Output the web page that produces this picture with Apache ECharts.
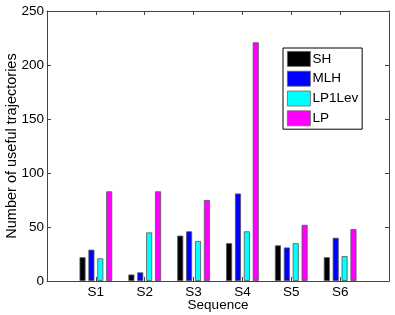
<!DOCTYPE html>
<html><head><meta charset="utf-8">
<script src="https://cdn.jsdelivr.net/npm/echarts@6/dist/echarts.min.js"></script>
<style>html,body{margin:0;padding:0;background:#fff}#c{width:395px;height:315px}</style>
</head><body><div id="c"></div>
<script>
const categories = ['S1','S2','S3','S4','S5','S6'];
const seriesNames = ['SH','MLH','LP1Lev','LP'];
const SH = [22, 6, 42, 35, 33, 22];
const MLH = [29, 8, 46, 81, 31, 40];
const LP1Lev = [21, 45, 37, 46, 35, 23];
const LP = [83, 83, 75, 221, 52, 48];
const yTicks = [0, 50, 100, 150, 200, 250];
const colors = ['#000000','#0000ff','#00ffff','#ff00ff'];
const allData = [SH, MLH, LP1Lev, LP];

const font = 'Liberation Sans, Arial, Helvetica, sans-serif';
const axisCol = '#444';
const chart = echarts.init(document.getElementById('c'), null, {renderer:'canvas'});
const series = allData.map((arr, k) => ({
  name: seriesNames[k], type: 'bar', xAxisIndex: 0, yAxisIndex: 0,
  barWidth: 6, barGap: '48%',
  itemStyle: {color: colors[k], borderColor: '#555', borderWidth: 0.8},
  data: arr.map((v, i) => [i + 1, v]),
  animation: false
}));
const xBase = {
  type: 'value', min: 0, max: categories.length + 1, interval: 1,
  axisLine: {show: true, onZero: false, lineStyle: {color: axisCol, width: 1}},
  axisTick: {show: true, inside: true, length: 4, lineStyle: {color: axisCol}},
  splitLine: {show: false}
};
const yBase = {
  type: 'value', min: yTicks[0], max: yTicks[yTicks.length - 1], interval: 50,
  axisLine: {show: true, onZero: false, lineStyle: {color: axisCol, width: 1}},
  axisTick: {show: true, inside: true, length: 4, lineStyle: {color: axisCol}},
  splitLine: {show: false}
};
chart.setOption({
  backgroundColor: '#fff',
  animation: false,
  grid: {left: 47, right: 6, top: 11, bottom: 34, containLabel: false, outerBoundsMode: 'none'},
  legend: {
    data: seriesNames, orient: 'vertical', left: 283, top: 48,
    itemWidth: 23, itemHeight: 15, itemGap: 4, padding: [3, 4, 3, 4],
    borderColor: '#000', borderWidth: 1, backgroundColor: '#fff',
    textStyle: {fontFamily: font, fontSize: 13.5, color: '#000', padding: [0,0,0,-3]},
    itemStyle: {borderColor: '#666', borderWidth: 0.8},
    selectedMode: false, icon: 'rect'
  },
  xAxis: [
    Object.assign({}, xBase, {position: 'bottom', name: 'Sequence', nameLocation: 'middle', nameGap: 17,
      nameMoveOverlap: false,
      nameTextStyle: {fontFamily: font, fontSize: 13.5, color: '#000'},
      axisLabel: {show: true, margin: 4, fontFamily: font, fontSize: 13.5, color: '#000',
        formatter: v => (v >= 1 && v <= categories.length) ? categories[v - 1] : ''}}),
    Object.assign({}, xBase, {position: 'top', axisLabel: {show: false}})
  ],
  yAxis: [
    Object.assign({}, yBase, {position: 'left', name: 'Number of useful trajectories', nameLocation: 'middle', nameGap: 28,
      nameMoveOverlap: false,
      nameTextStyle: {fontFamily: font, fontSize: 14.5, color: '#000'},
      axisLabel: {show: true, margin: 3, fontFamily: font, fontSize: 13.5, color: '#000'}}),
    Object.assign({}, yBase, {position: 'right', axisLabel: {show: false}})
  ],
  series: series
});
</script></body></html>
